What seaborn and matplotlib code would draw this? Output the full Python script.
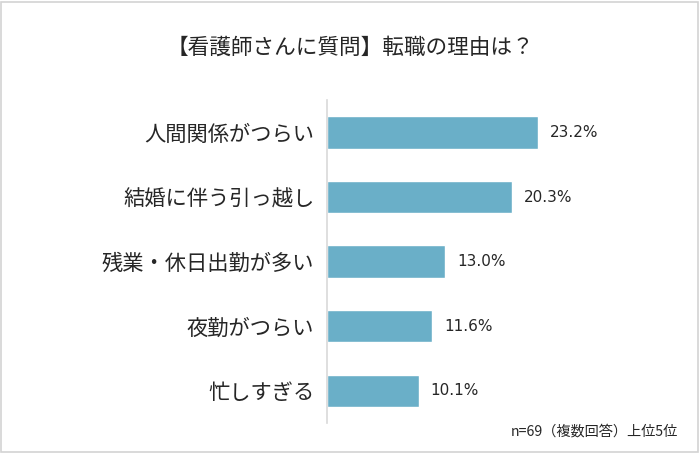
"""
看護師さんの転職理由 (上位5位) - horizontal bar chart
"""
import matplotlib.pyplot as plt
import matplotlib.patches as patches
import pandas as pd
import seaborn as sns

# data
reasons = ["人間関係がつらい", "結婚に伴う引っ越し", "残業・休日出勤が多い", "夜勤がつらい", "忙しすぎる"]
percents = [23.2, 20.3, 13.0, 11.6, 10.1]

title = "【看護師さんに質問】転職の理由は？"
note = "n=69（複数回答）上位5位"

df = pd.DataFrame({"reason": reasons, "pct": percents})

sns.set_style("white")
plt.rcParams["font.family"] = ["Noto Sans CJK JP", "DejaVu Sans"]

fig = plt.figure(figsize=(7, 4.53), dpi=100)
ax = fig.add_axes([0.467, 0.066, 0.52, 0.713])

sns.barplot(data=df, x="pct", y="reason", orient="h", color="#6AAFC8",
            saturation=1, width=0.5, ax=ax)

# value labels
for i, v in enumerate(percents):
    ax.text(v + 1.3, i, f"{v:.1f}%", va="center", ha="left",
            fontsize=11, color="#262626", family=["DejaVu Sans"])

ax.set_xlim(0, 40)
ax.set_ylim(4.5, -0.5)
ax.set_xlabel("")
ax.set_ylabel("")
ax.set_xticks([])
ax.tick_params(axis="y", length=0, pad=9, labelsize=15.3, labelcolor="#262626")
for side in ["top", "right", "bottom"]:
    ax.spines[side].set_visible(False)
ax.spines["left"].set_color("#d9d9d9")
ax.spines["left"].set_linewidth(1.2)

fig.text(0.5, 0.895, title, ha="center", va="center", fontsize=15.6, color="#262626")
fig.text(0.968, 0.047, note, ha="right", va="center", fontsize=10.2, color="#262626")

# grey frame round the whole picture
frame = patches.Rectangle((0.002, 0.003), 0.995, 0.993, transform=fig.transFigure,
                          fill=False, edgecolor="#d3d3d3", linewidth=1.2)
fig.patches.append(frame)

plt.savefig("out.png", dpi=100)
